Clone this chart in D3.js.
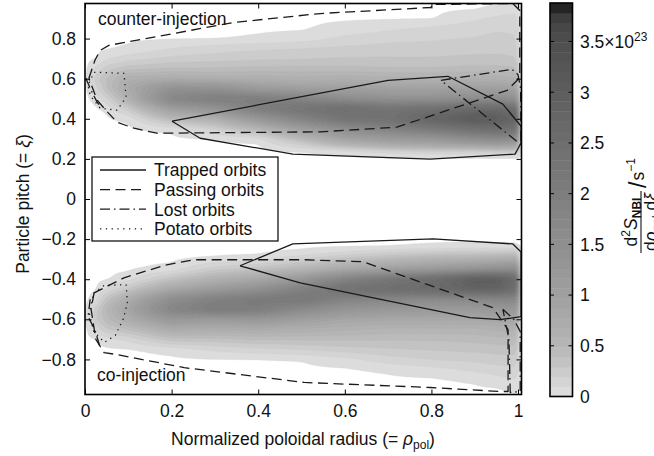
<!DOCTYPE html>
<html>
<head>
<meta charset="utf-8">
<script src="https://cdn.jsdelivr.net/npm/d3@7"></script>
<style>
  html, body { margin: 0; padding: 0; background: #fff; }
  svg { display: block; font-family: "Liberation Sans", Arial, sans-serif; }
</style>
</head>
<body>
<svg id="chart" width="654" height="456"></svg>
<script>
// ---------------------------------------------------------------------------
// Data: NBI birth density d²S/dρ dξ (units of 1e23 s^-1) on a coarse grid
// ---------------------------------------------------------------------------
const radiusNodes = [0.005, 0.025, 0.05, 0.1, 0.2, 0.3, 0.4, 0.5, 0.6, 0.7, 0.8, 0.9, 0.95, 0.998, 1.004];

// counter-injection lobe (ξ > 0), one row per pitch node
const pitchCounter = [0.975, 0.95, 0.9, 0.85, 0.8, 0.75, 0.7, 0.65, 0.6, 0.55, 0.5, 0.45, 0.4, 0.35, 0.3, 0.27, 0.24, 0.21];
const densityCounter = [
  [0, 0,    0,    0,    0,    0,    0,    0,    0,    0,    0,    0,    0,    0,    0],
  [0, 0,    0,    0,    0,    0,    0,    0,    0,    0,    0,    0,    0.03, 0.06, 0],
  [0, 0,    0,    0,    0,    0,    0,    0,    0,    0,    0,    0.08, 0.12, 0.14, 0],
  [0, 0,    0,    0,    0,    0,    0,    0,    0.04, 0.08, 0.12, 0.16, 0.18, 0.18, 0],
  [0, 0,    0,    0,    0,    0,    0.02, 0.05, 0.12, 0.16, 0.18, 0.2,  0.22, 0.2,  0],
  [0, 0,    0,    0.02, 0.1,  0.15, 0.18, 0.2,  0.22, 0.24, 0.24, 0.25, 0.26, 0.24, 0],
  [0, 0,    0.08, 0.15, 0.22, 0.25, 0.27, 0.28, 0.3,  0.3,  0.3,  0.32, 0.32, 0.3,  0],
  [0, 0.12, 0.25, 0.35, 0.4,  0.4,  0.42, 0.42, 0.42, 0.4,  0.4,  0.42, 0.42, 0.4,  0],
  [0, 0.25, 0.4,  0.65, 0.7,  0.65, 0.65, 0.62, 0.65, 0.62, 0.6,  0.65, 0.65, 0.6,  0],
  [0, 0.15, 0.38, 0.8,  1.4,  1.4,  1.1,  1.0,  1.0,  0.95, 0.95, 1.0,  1.0,  0.9,  0],
  [0, 0.03, 0.18, 0.6,  1.75, 2.0,  2.0,  1.8,  1.5,  1.4,  1.4,  1.5,  1.5,  1.4,  0],
  [0, 0,    0.02, 0.25, 1.0,  1.3,  2.0,  2.3,  2.5,  2.3,  2.4,  2.6,  2.6,  2.4,  0],
  [0, 0,    0,    0.02, 0.45, 0.6,  1.2,  1.8,  2.3,  2.4,  2.8,  3.1,  3.0,  2.8,  0],
  [0, 0,    0,    0,    0.02, 0.2,  0.5,  1.0,  1.5,  1.8,  2.1,  2.4,  2.5,  2.3,  0],
  [0, 0,    0,    0,    0,    0,    0.05, 0.45, 0.9,  1.1,  1.2,  1.5,  1.6,  1.5,  0],
  [0, 0,    0,    0,    0,    0,    0,    0.2,  0.5,  0.7,  0.8,  0.9,  1.0,  0.9,  0],
  [0, 0,    0,    0,    0,    0,    0,    0,    0.05, 0.15, 0.2,  0.2,  0.25, 0.25, 0],
  [0, 0,    0,    0,    0,    0,    0,    0,    0,    0,    0,    0,    0,    0,    0]
];

// co-injection lobe (ξ < 0)
const pitchCo = [-0.21, -0.24, -0.27, -0.3, -0.35, -0.4, -0.45, -0.5, -0.55, -0.6, -0.65, -0.7, -0.75, -0.8, -0.85, -0.9, -0.95, -0.975];
const densityCo = [
  [0, 0,    0,    0,    0,    0,    0,    0,    0,    0,    0,    0,    0,    0,    0],
  [0, 0,    0,    0,    0,    0,    0,    0,    0,    0,    0.03, 0.05, 0.04, 0.03, 0],
  [0, 0,    0,    0,    0,    0,    0,    0.03, 0.12, 0.22, 0.28, 0.3,  0.32, 0.35, 0],
  [0, 0,    0,    0,    0,    0.02, 0.05, 0.2,  0.35, 0.45, 0.55, 0.6,  0.65, 0.7,  0],
  [0, 0,    0,    0,    0.03, 0.25, 0.35, 0.5,  0.75, 0.95, 1.1,  1.3,  1.4,  1.5,  0],
  [0, 0,    0,    0.05, 0.35, 0.6,  0.8,  1.2,  1.8,  2.2,  2.5,  3.0,  3.0,  2.6,  0],
  [0, 0,    0.1,  0.3,  0.8,  1.1,  1.4,  1.9,  2.4,  2.5,  2.6,  2.8,  2.8,  2.4,  0],
  [0, 0.05, 0.35, 0.7,  1.5,  1.9,  2.1,  2.2,  1.8,  1.7,  1.6,  1.6,  1.7,  1.7,  0],
  [0, 0.25, 0.5,  0.9,  1.8,  2.1,  2.0,  1.6,  1.3,  1.2,  1.15, 1.15, 1.2,  1.2,  0],
  [0, 0.28, 0.45, 0.7,  1.2,  1.1,  1.2,  1.0,  0.85, 0.8,  0.8,  0.8,  0.85, 0.85, 0],
  [0, 0.12, 0.28, 0.4,  0.7,  0.7,  0.7,  0.65, 0.6,  0.55, 0.55, 0.55, 0.6,  0.6,  0],
  [0, 0,    0.05, 0.12, 0.35, 0.35, 0.4,  0.4,  0.4,  0.4,  0.4,  0.42, 0.45, 0.45, 0],
  [0, 0,    0,    0,    0.03, 0.12, 0.16, 0.2,  0.25, 0.28, 0.3,  0.32, 0.33, 0.35, 0],
  [0, 0,    0,    0,    0,    0,    0,    0.01, 0.06, 0.15, 0.2,  0.22, 0.25, 0.25, 0],
  [0, 0,    0,    0,    0,    0,    0,    0,    0,    0.02, 0.06, 0.12, 0.15, 0.18, 0],
  [0, 0,    0,    0,    0,    0,    0,    0,    0,    0,    0,    0.02, 0.06, 0.1,  0],
  [0, 0,    0,    0,    0,    0,    0,    0,    0,    0,    0,    0,    0,    0.03, 0],
  [0, 0,    0,    0,    0,    0,    0,    0,    0,    0,    0,    0,    0,    0,    0]
];

// orbit-class boundaries, [ρ_pol, ξ]
const trappedCounter = [[0.201,0.388],[0.70,0.592],[0.838,0.612],[0.965,0.473],[1.007,0.363],[1.007,0.279],[0.993,0.224],[0.797,0.199],[0.48,0.224],[0.266,0.303],[0.201,0.388]];
const passingCounter = [[0.009,0.602],[0.023,0.692],[0.035,0.741],[0.055,0.766],[0.342,0.88],[0.543,0.925],[0.799,0.955],[0.801,0.97],[0.988,0.975],[1.004,0.94],[1.004,0.627],[0.998,0.592],[0.975,0.542],[0.72,0.358],[0.543,0.335],[0.166,0.328],[0.113,0.353],[0.074,0.383],[0.048,0.443],[0.028,0.493],[0.009,0.602]];
const lostCounter = [[0.822,0.592],[0.986,0.647],[1.0,0.62],[1.006,0.55],[1.007,0.27],[0.822,0.592]];
const lostCounterEdge = [[0.002,0.602],[0.014,0.542],[0.028,0.483],[0.037,0.458]];
const potatoCounter = [[0.021,0.632],[0.09,0.627],[0.095,0.507],[0.074,0.443],[0.035,0.453],[0.012,0.517],[0.007,0.567],[0.021,0.632]];

const trappedCo = [[0.358,-0.333],[0.48,-0.224],[0.804,-0.199],[0.988,-0.224],[1.007,-0.264],[1.007,-0.587],[0.958,-0.602],[0.889,-0.592],[0.497,-0.418],[0.358,-0.333]];
const passingCo = [[0.021,-0.468],[0.014,-0.55],[0.025,-0.70],[0.044,-0.766],[0.074,-0.776],[0.229,-0.841],[0.506,-0.915],[0.797,-0.94],[0.958,-0.96],[0.977,-0.96],[0.977,-0.652],[0.942,-0.542],[0.642,-0.313],[0.506,-0.303],[0.252,-0.303],[0.189,-0.328],[0.09,-0.393],[0.021,-0.468]];
const lostCo = [[0.965,-0.55],[0.99,-0.6],[1.005,-0.66],[1.005,-0.96],[0.982,-0.965],[0.979,-0.7],[0.965,-0.55]];
const lostCoEdge = [[0.012,-0.5],[0.007,-0.587],[0.023,-0.652],[0.035,-0.741]];
const potatoCo = [[0.02,-0.47],[0.045,-0.43],[0.095,-0.428],[0.098,-0.52],[0.088,-0.6],[0.07,-0.68],[0.045,-0.715],[0.02,-0.66],[0.01,-0.57],[0.02,-0.47]];

const xTicks = [0, 0.2, 0.4, 0.6, 0.8, 1];
const yTicks = [-0.8, -0.6, -0.4, -0.2, 0, 0.2, 0.4, 0.6, 0.8];
const colorbarTicks = [0, 0.5, 1, 1.5, 2, 2.5, 3, 3.5];
const colorMax = 3.88;
const levelCount = 40;

const legendItems = [
  { label: "Trapped orbits", dash: null },
  { label: "Passing orbits", dash: "10,5.5" },
  { label: "Lost orbits",    dash: "10,4,1.5,4" },
  { label: "Potato orbits",  dash: "1.3,4.5" }
];

// ---------------------------------------------------------------------------
// Layout and scales
// ---------------------------------------------------------------------------
const svg = d3.select("#chart");
const plot = { left: 85, right: 521.5, top: 3.5, bottom: 394.5 };
const x = d3.scaleLinear().domain([0, 1.008]).range([plot.left, plot.right]);
const y = d3.scaleLinear().domain([-0.975, 0.975]).range([plot.bottom, plot.top]);
const FONT = 17.5;
const SUB = 12;

// grey map for the density
const grayStops = [[0,224],[0.5,182],[1,160],[1.5,143],[2,126],[2.5,110],[3,94],[3.5,78],[3.72,66],[3.8,40],[3.88,30]];
const grayScale = d3.scaleLinear().domain(grayStops.map(d => d[0])).range(grayStops.map(d => d[1])).clamp(true);
const grayAt = v => { const g = Math.round(grayScale(v)); return `rgb(${g},${g},${g})`; };

const step = colorMax / levelCount;
const thresholds = d3.range(levelCount).map(k => k === 0 ? 0.01 : k * step);
const bandColor = k => grayAt((k + 0.5) * step);

// bilinear lookup on the (non-uniform) node grid
function makeField(pitches, rows) {
  const order = d3.range(pitches.length).sort((a, b) => pitches[a] - pitches[b]);
  const ys = order.map(i => pitches[i]);
  const vs = order.map(i => rows[i]);
  const xs = radiusNodes;
  return (r, p) => {
    if (r <= xs[0] || r >= xs[xs.length - 1] || p <= ys[0] || p >= ys[ys.length - 1]) return 0;
    const i = d3.bisectRight(xs, r) - 1;
    const j = d3.bisectRight(ys, p) - 1;
    const tx = (r - xs[i]) / (xs[i + 1] - xs[i]);
    const ty = (p - ys[j]) / (ys[j + 1] - ys[j]);
    const a = vs[j][i] * (1 - tx) + vs[j][i + 1] * tx;
    const b = vs[j + 1][i] * (1 - tx) + vs[j + 1][i + 1] * tx;
    return a * (1 - ty) + b * ty;
  };
}
const counterField = makeField(pitchCounter, densityCounter);
const coField = makeField(pitchCo, densityCo);

// sample on a fine pixel grid
const cell = 1.5;
const nx = Math.ceil((plot.right - plot.left) / cell);
const ny = Math.ceil((plot.bottom - plot.top) / cell);
const values = new Array(nx * ny);
for (let j = 0; j < ny; j++) {
  const p = y.invert(plot.top + (j + 0.5) * cell);
  for (let i = 0; i < nx; i++) {
    const r = x.invert(plot.left + (i + 0.5) * cell);
    values[j * nx + i] = p > 0 ? counterField(r, p) : coField(r, p);
  }
}
if (d3.blur2) d3.blur2({ data: values, width: nx, height: ny }, 1);

const contours = d3.contours().size([nx, ny]).thresholds(thresholds)(values);
const gridToPx = d3.geoTransform({
  point(gx, gy) { this.stream.point(plot.left + gx * cell, plot.top + gy * cell); }
});
const contourPath = d3.geoPath(gridToPx);

svg.append("defs").append("clipPath").attr("id", "plot-clip")
  .append("rect")
  .attr("x", plot.left).attr("y", plot.top)
  .attr("width", plot.right - plot.left).attr("height", plot.bottom - plot.top);

const field = svg.append("g").attr("clip-path", "url(#plot-clip)");
field.selectAll("path.band")
  .data(contours)
  .join("path")
  .attr("class", "band")
  .attr("d", contourPath)
  .attr("fill", (d, k) => bandColor(k))
  .attr("stroke", (d, k) => bandColor(k))
  .attr("stroke-width", 0.3);

// ---------------------------------------------------------------------------
// Orbit boundaries
// ---------------------------------------------------------------------------
const line = d3.line().x(d => x(d[0])).y(d => y(d[1]));
const curves = svg.append("g").attr("clip-path", "url(#plot-clip)")
  .attr("fill", "none").attr("stroke", "#1a1a1a").attr("stroke-width", 1.3)
  .attr("stroke-linejoin", "round");

const boundaries = [
  { pts: passingCounter, dash: legendItems[1].dash },
  { pts: passingCo,      dash: legendItems[1].dash },
  { pts: lostCounter,    dash: legendItems[2].dash },
  { pts: lostCounterEdge,dash: legendItems[2].dash },
  { pts: lostCo,         dash: legendItems[2].dash },
  { pts: lostCoEdge,     dash: legendItems[2].dash },
  { pts: potatoCounter,  dash: legendItems[3].dash },
  { pts: potatoCo,       dash: legendItems[3].dash },
  { pts: trappedCounter, dash: legendItems[0].dash },
  { pts: trappedCo,      dash: legendItems[0].dash }
];
curves.selectAll("path")
  .data(boundaries)
  .join("path")
  .attr("d", d => line(d.pts))
  .attr("stroke-dasharray", d => d.dash);

// ---------------------------------------------------------------------------
// Axes
// ---------------------------------------------------------------------------
const tickFmt = d => d === 0 ? "0" : (d === 1 ? "1" : d3.format(".1f")(d));

function styleAxis(g) {
  g.select(".domain").remove();
  g.selectAll(".tick line").attr("stroke", "#000").attr("stroke-width", 1);
  g.selectAll(".tick text").attr("font-size", FONT).attr("fill", "#111")
    .attr("font-family", '"Liberation Sans", Arial, sans-serif');
}
svg.append("g").attr("transform", `translate(${plot.left},0)`)
  .call(d3.axisLeft(y).tickValues(yTicks).tickSize(-5).tickPadding(9).tickFormat(tickFmt))
  .call(styleAxis);
svg.append("g").attr("transform", `translate(${plot.right},0)`)
  .call(d3.axisRight(y).tickValues(yTicks).tickSize(-5).tickFormat(""))
  .call(styleAxis);
svg.append("g").attr("transform", `translate(0,${plot.bottom})`)
  .call(d3.axisBottom(x).tickValues(xTicks).tickSize(-5).tickPadding(10).tickFormat(tickFmt))
  .call(styleAxis);
svg.append("g").attr("transform", `translate(0,${plot.top})`)
  .call(d3.axisTop(x).tickValues(xTicks).tickSize(-5).tickFormat(""))
  .call(styleAxis);

svg.append("rect")
  .attr("x", plot.left).attr("y", plot.top)
  .attr("width", plot.right - plot.left).attr("height", plot.bottom - plot.top)
  .attr("fill", "none").attr("stroke", "#000").attr("stroke-width", 1.6);

// axis titles
const xTitle = svg.append("text")
  .attr("x", 303).attr("y", 445).attr("text-anchor", "middle")
  .attr("font-size", FONT).attr("fill", "#111");
xTitle.append("tspan").text("Normalized poloidal radius (= ");
xTitle.append("tspan").attr("font-style", "italic").text("ρ");
xTitle.append("tspan").attr("font-size", SUB).attr("dy", 4).text("pol");
xTitle.append("tspan").attr("dy", -4).text(")");

const yTitle = svg.append("text")
  .attr("transform", "translate(29,204) rotate(-90)")
  .attr("text-anchor", "middle")
  .attr("font-size", FONT).attr("fill", "#111");
yTitle.append("tspan").text("Particle pitch (= ");
yTitle.append("tspan").attr("font-style", "italic").text("ξ");
yTitle.append("tspan").text(")");

// lobe annotations
svg.append("text").attr("x", 98).attr("y", 25)
  .attr("font-size", FONT).attr("fill", "#111").text("counter-injection");
svg.append("text").attr("x", 97).attr("y", 381)
  .attr("font-size", FONT).attr("fill", "#111").text("co-injection");

// ---------------------------------------------------------------------------
// Legend
// ---------------------------------------------------------------------------
const legend = svg.append("g");
legend.append("rect")
  .attr("x", 92).attr("y", 157).attr("width", 186).attr("height", 84)
  .attr("fill", "#fff").attr("stroke", "#000").attr("stroke-width", 1.2);
const rows = legend.selectAll("g.item").data(legendItems).join("g")
  .attr("class", "item")
  .attr("transform", (d, i) => `translate(0,${170 + i * 19.6})`);
rows.append("line")
  .attr("x1", 100).attr("x2", 146).attr("y1", 0).attr("y2", 0)
  .attr("stroke", "#1a1a1a").attr("stroke-width", 1.3)
  .attr("stroke-dasharray", d => d.dash);
rows.append("text")
  .attr("x", 154).attr("y", 0).attr("dy", "0.36em")
  .attr("font-size", FONT).attr("fill", "#111")
  .text(d => d.label);

// ---------------------------------------------------------------------------
// Colour bar
// ---------------------------------------------------------------------------
const cb = { left: 550, right: 572.5 };
const cbY = d3.scaleLinear().domain([0, colorMax]).range([396.5, 3]);
const cbG = svg.append("g");
cbG.selectAll("rect.band")
  .data(thresholds)
  .join("rect")
  .attr("class", "band")
  .attr("x", cb.left)
  .attr("width", cb.right - cb.left)
  .attr("y", (t, k) => cbY((k + 1) * step))
  .attr("height", (t, k) => cbY(k * step) - cbY((k + 1) * step) + 0.4)
  .attr("fill", (t, k) => bandColor(k));
cbG.append("rect")
  .attr("x", cb.left).attr("y", cbY(colorMax))
  .attr("width", cb.right - cb.left).attr("height", cbY(0) - cbY(colorMax))
  .attr("fill", "none").attr("stroke", "#000").attr("stroke-width", 1.6);
const cbTick = cbG.selectAll("g.cbtick").data(colorbarTicks).join("g")
  .attr("class", "cbtick")
  .attr("transform", d => `translate(0,${cbY(d)})`);
cbTick.filter(d => d > 0).append("line")
  .attr("x1", cb.left).attr("x2", cb.left + 4).attr("stroke", "#000");
cbTick.filter(d => d > 0).append("line")
  .attr("x1", cb.right - 4).attr("x2", cb.right).attr("stroke", "#000");
const cbLabel = cbTick.append("text")
  .attr("x", 580).attr("dy", "0.36em")
  .attr("font-size", FONT).attr("fill", "#111");
cbLabel.filter(d => d !== 3.5).text(d => d3.format("~g")(d));
const topLabel = cbLabel.filter(d => d === 3.5);
topLabel.append("tspan").text(d => d3.format("~g")(d) + "×10");
topLabel.append("tspan").attr("font-size", SUB).attr("dy", -7).text("23");

// colour-bar title: d²S_NBI / (dρ_pol dξ) / s⁻¹, written upward
const cbTitle = svg.append("g").attr("transform", "translate(641,222) rotate(-90)")
  .attr("fill", "#111");
const num = cbTitle.append("text").attr("x", 0).attr("y", -4)
  .attr("text-anchor", "middle").attr("font-size", FONT);
num.append("tspan").text("d");
num.append("tspan").attr("font-size", SUB).attr("dy", -7).text("2");
num.append("tspan").attr("dy", 7).attr("font-style", "italic").text("S");
num.append("tspan").attr("font-size", SUB).attr("font-weight", "bold").attr("dy", 4).text("NBI");
cbTitle.append("line").attr("x1", -31).attr("x2", 31).attr("y1", 0).attr("y2", 0)
  .attr("stroke", "#111").attr("stroke-width", 1.1);
const den = cbTitle.append("text").attr("x", 0).attr("y", 16)
  .attr("text-anchor", "middle").attr("font-size", FONT);
den.append("tspan").text("d");
den.append("tspan").attr("font-style", "italic").text("ρ");
den.append("tspan").attr("font-size", SUB).attr("dy", 4).text("pol");
den.append("tspan").attr("dy", -4).text(" d");
den.append("tspan").attr("font-style", "italic").text("ξ");
const unit = cbTitle.append("text").attr("x", 34).attr("y", 5).attr("font-size", FONT);
unit.append("tspan").attr("font-size", 23).text("/");
unit.append("tspan").attr("dx", 1).attr("dy", -2).text("s");
unit.append("tspan").attr("font-size", SUB).attr("dy", -9).text("−1");
</script>
</body>
</html>
